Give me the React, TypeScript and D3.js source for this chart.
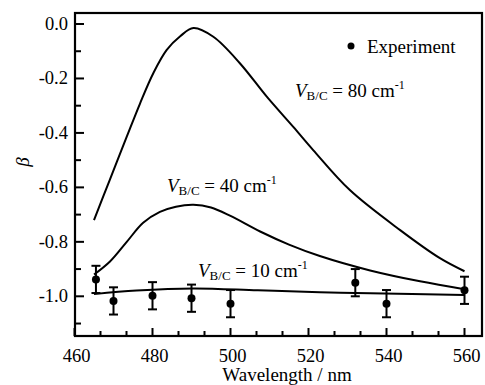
import React from "react";
import * as d3 from "d3";

const W = 485;
const H = 385;

// Experiment data
const expX = [465.5, 470, 480, 490, 500, 532, 540, 560];
const expY = [-0.938, -1.017, -0.998, -1.007, -1.027, -0.95, -1.027, -0.978];
const expErr = [0.05, 0.05, 0.05, 0.05, 0.05, 0.05, 0.05, 0.05];

// Theory curves
const c80X = [465, 469, 473.4, 476.8, 480.2, 483.6, 487.1, 490.5, 495.6, 502.4, 509.3, 516.1, 521.2, 530.6, 543.5, 553.7, 560];
const c80Y = [-0.72, -0.574, -0.414, -0.292, -0.181, -0.096, -0.045, -0.015, -0.047, -0.144, -0.267, -0.378, -0.463, -0.61, -0.757, -0.86, -0.908];

const c40X = [465, 469.1, 473.4, 477.6, 481.9, 486, 490.5, 495, 500, 507.6, 515, 522.9, 535.8, 548.6, 560];
const c40Y = [-0.92, -0.872, -0.8, -0.73, -0.69, -0.671, -0.664, -0.674, -0.705, -0.762, -0.81, -0.852, -0.905, -0.945, -0.974];

const c10X = [465, 475.9, 490.5, 507, 522.9, 535.8, 560];
const c10Y = [-0.992, -0.979, -0.971, -0.978, -0.985, -0.989, -0.995];

const xTicks = [460, 480, 500, 520, 540, 560];
const yTicks = [0, -0.2, -0.4, -0.6, -0.8, -1.0];

const left = 75;
const right = 482;
const top = 13;
const bottom = 336;

const font = "Liberation Serif";

export default function App() {
  const x = d3.scaleLinear().domain([460, 460 + (right - 74.5) / 3.9]).range([74.5, right]);
  const y = d3.scaleLinear().domain([0, -1]).range([24, 296.3]);

  const line = d3
    .line<[number, number]>()
    .x((d) => x(d[0]))
    .y((d) => y(d[1]))
    .curve(d3.curveCatmullRom.alpha(0.5));

  const zip = (a: number[], b: number[]) => a.map((v, i) => [v, b[i]] as [number, number]);

  const xMinor: number[] = [];
  for (let i = 0; i < 16; i++) {
    const v = 460 + (i * 20) / 3;
    if (x(v) <= right - 1) xMinor.push(v);
  }
  const yMinor: number[] = [];
  for (let v = 0; v >= -1.1001; v -= 0.1) yMinor.push(v);

  const txt = { fontFamily: font, fill: "#000" } as React.CSSProperties;

  const label = (vx: number, vy: number, val: string) => (
    <text x={vx} y={vy} style={{ ...txt, fontSize: 19 }}>
      <tspan style={{ fontStyle: "italic" }}>V</tspan>
      <tspan style={{ fontSize: 13 }} dy={3}>B/C</tspan>
      <tspan dy={-3}>{` = ${val} cm`}</tspan>
      <tspan style={{ fontSize: 12 }} dy={-8}>-1</tspan>
    </text>
  );

  return (
    <svg width={W} height={H} style={{ position: "absolute", left: 0, top: 0, background: "#fff" }}>
      <rect x={0} y={0} width={W} height={H} fill="#fff" />
      <rect x={left} y={top} width={right - left} height={bottom - top} fill="none" stroke="#000" strokeWidth={2.2} />
      {xMinor.map((v, i) => (
        <line key={"xm" + i} x1={x(v)} x2={x(v)} y1={bottom} y2={bottom - (i % 3 === 0 ? 8 : 5)} stroke="#000" strokeWidth={2} />
      ))}
      {xTicks.map((v) => (
        <text key={"xt" + v} x={x(v) + 2} y={362} textAnchor="middle" style={{ ...txt, fontSize: 18.5 }}>
          {v}
        </text>
      ))}
      {yMinor.map((v, i) => (
        <line key={"ym" + i} x1={left} x2={left + (i % 2 === 0 ? 9 : 6)} y1={y(v)} y2={y(v)} stroke="#000" strokeWidth={2} />
      ))}
      {yTicks.map((v) => (
        <text key={"yt" + v} x={68} y={y(v) + 6} textAnchor="end" style={{ ...txt, fontSize: 18.5 }}>
          {v.toFixed(1)}
        </text>
      ))}
      <path d={line(zip(c80X, c80Y)) || ""} fill="none" stroke="#000" strokeWidth={2} />
      <path d={line(zip(c40X, c40Y)) || ""} fill="none" stroke="#000" strokeWidth={2} />
      <path d={line(zip(c10X, c10Y)) || ""} fill="none" stroke="#000" strokeWidth={2} />
      {expX.map((v, i) => (
        <g key={"e" + i}>
          <line x1={x(v)} x2={x(v)} y1={y(expY[i] - expErr[i])} y2={y(expY[i] + expErr[i])} stroke="#000" strokeWidth={2} />
          <line x1={x(v) - 4.5} x2={x(v) + 4.5} y1={y(expY[i] - expErr[i])} y2={y(expY[i] - expErr[i])} stroke="#000" strokeWidth={2} />
          <line x1={x(v) - 4.5} x2={x(v) + 4.5} y1={y(expY[i] + expErr[i])} y2={y(expY[i] + expErr[i])} stroke="#000" strokeWidth={2} />
          <circle cx={x(v)} cy={y(expY[i])} r={4} fill="#000" />
        </g>
      ))}
      <circle cx={351} cy={46} r={3.5} fill="#000" />
      <text x={367} y={52.5} style={{ ...txt, fontSize: 19 }}>
        Experiment
      </text>
      {label(295, 97, "80")}
      {label(167, 192, "40")}
      {label(198, 277, "10")}
      <text x={287} y={381} textAnchor="middle" style={{ ...txt, fontSize: 19 }}>
        Wavelength / nm
      </text>
      <text transform="translate(29,162) rotate(-90)" textAnchor="middle" style={{ ...txt, fontSize: 19, fontStyle: "italic" }}>
        β
      </text>
    </svg>
  );
}
